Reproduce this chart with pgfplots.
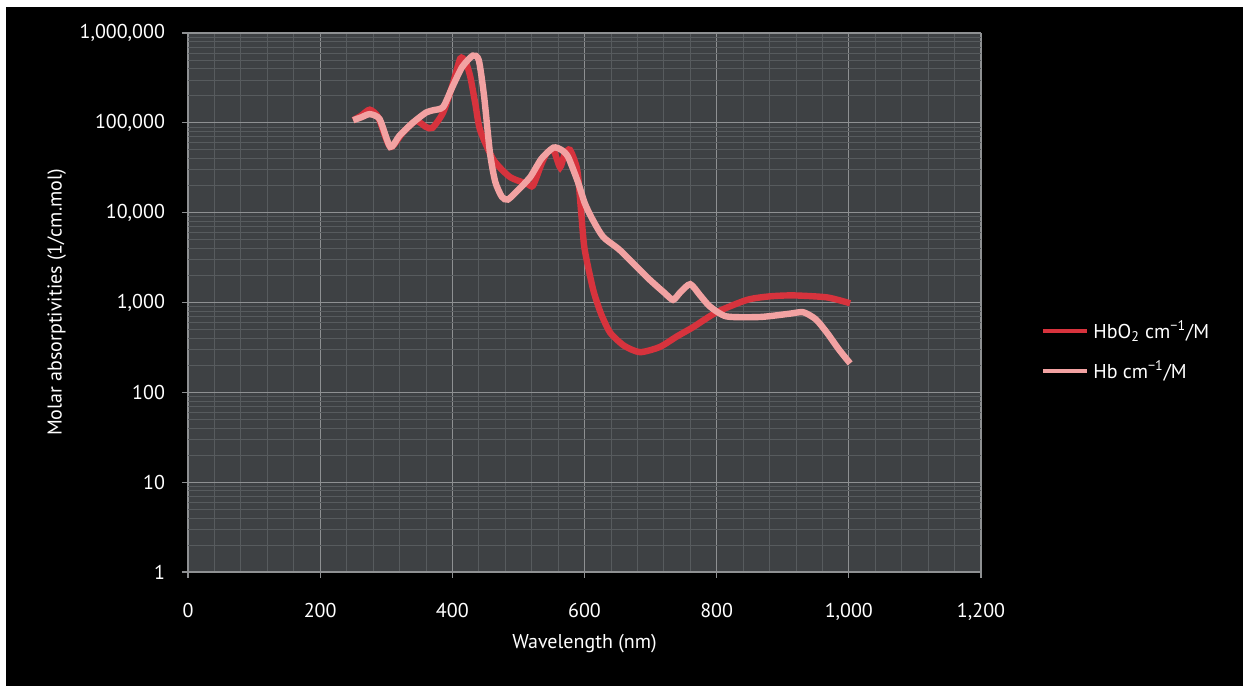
\documentclass[border=0pt]{standalone}
\usepackage{pgfplots}
\pgfplotsset{compat=1.18}
\usepackage{fontspec}
\setmainfont{PT Sans}
\definecolor{plotbg}{HTML}{3E4144}
\definecolor{majgrid}{HTML}{8E9092}
\definecolor{mingrid}{HTML}{575B5E}
\definecolor{oxyred}{HTML}{D7333D}
\definecolor{deoxypink}{HTML}{F2A2A2}
\begin{document}
\begin{tikzpicture}
\path[use as bounding box] (-94pt,-57pt) rectangle (531.5pt,286pt);
\fill[white] (-94pt,-57pt) rectangle (531.5pt,286pt);
\fill[black] (-91pt,-57pt) rectangle (527.5pt,282.5pt);
\begin{axis}[
  at={(0,0)}, anchor=south west,
  scale only axis, width=396.5pt, height=269.5pt,
  ymode=log, log basis y=10,
  xmin=0, xmax=1200, ymin=1, ymax=1000000,
  xtick={0,200,...,1200},
  xticklabels={0,200,400,600,800,{1,000},{1,200}},
  minor x tick num=4,
  ytick={1,10,100,1000,10000,100000,1000000},
  yticklabels={1,10,100,{1,000},{10,000},{100,000},{1,000,000}},
  minor ytick={2,3,4,5,6,7,8,9,20,30,40,50,60,70,80,90,200,300,400,500,600,700,800,900,2000,3000,4000,5000,6000,7000,8000,9000,20000,30000,40000,50000,60000,70000,80000,90000,200000,300000,400000,500000,600000,700000,800000,900000},
  xtick pos=bottom, ytick pos=left,
  axis background/.style={fill=plotbg},
  axis line style={draw=none},
  grid=both,
  major grid style={majgrid, line width=0.6pt},
  minor grid style={mingrid, line width=0.4pt},
  tick style={majgrid, line width=0.6pt},
  major tick length=3pt, minor tick length=0pt,
  tick align=outside,
  ticklabel style={font=\fontsize{10}{12}\selectfont, text=white},
  /pgf/number format/assume math mode=true,
  xticklabel style={yshift=-9pt},
  yticklabel style={xshift=-5pt},
  xlabel={Wavelength (nm)},
  ylabel={Molar absorptivities (1/cm.mol)},
  label style={font=\fontsize{10}{12}\selectfont, text=white},
  legend style={at={(axis description cs:1.068,0.41)}, anchor=west,
    fill=none, draw=none, text=white, font=\fontsize{10}{12}\selectfont,
    row sep=6pt},
  legend cell align=left,
  legend image code/.code={\draw[#1, line width=2pt] (0pt,0pt) -- (22pt,0pt);},
]
\addplot[oxyred, line width=3.2pt, smooth, tension=0.4] coordinates {
(250,107000) (262,120000) (275,140000) (288,115000) (306,54000)
(325,78000) (345,105000) (360,90000) (370,88000) (386,130000)
(400,260000) (412,520000) (420,480000) (427,330000) (435,160000)
(442,83000) (462,39000) (487,25000) (513,21000) (522,20000)
(535,35000) (543,46000) (553,50000) (563,32000) (570,45000)
(578,50000) (589,30000) (595,10000) (600,4000) (613,1400)
(625,750) (639,460) (660,330) (684,280) (714,320) (740,420)
(764,530) (800,780) (846,1070) (880,1170) (916,1200) (967,1140)
(1002,980)
};
\addlegendentry{HbO\textsubscript{2} cm\textsuperscript{\textminus1}/M}
\addplot[deoxypink, line width=3.2pt, smooth, tension=0.4] coordinates {
(250,107000) (262,115000) (275,125000) (290,110000) (306,54000)
(320,72000) (340,100000) (360,130000) (371,138000) (386,150000)
(400,250000) (415,420000) (431,560000) (440,500000) (448,200000)
(457,46000) (465,22000) (475,15000) (484,14000) (500,18000)
(518,25000) (535,40000) (553,53000) (565,50000) (575,42000)
(590,22000) (600,13000) (610,9000) (628,5400) (654,3800)
(695,1900) (720,1300) (734,1070) (745,1300) (760,1600) (775,1200)
(790,900) (815,700) (866,690) (910,750) (931,780) (950,650)
(967,460) (985,300) (1002,210)
};
\addlegendentry{Hb cm\textsuperscript{\textminus1}/M}
\end{axis}
\end{tikzpicture}
\end{document}
